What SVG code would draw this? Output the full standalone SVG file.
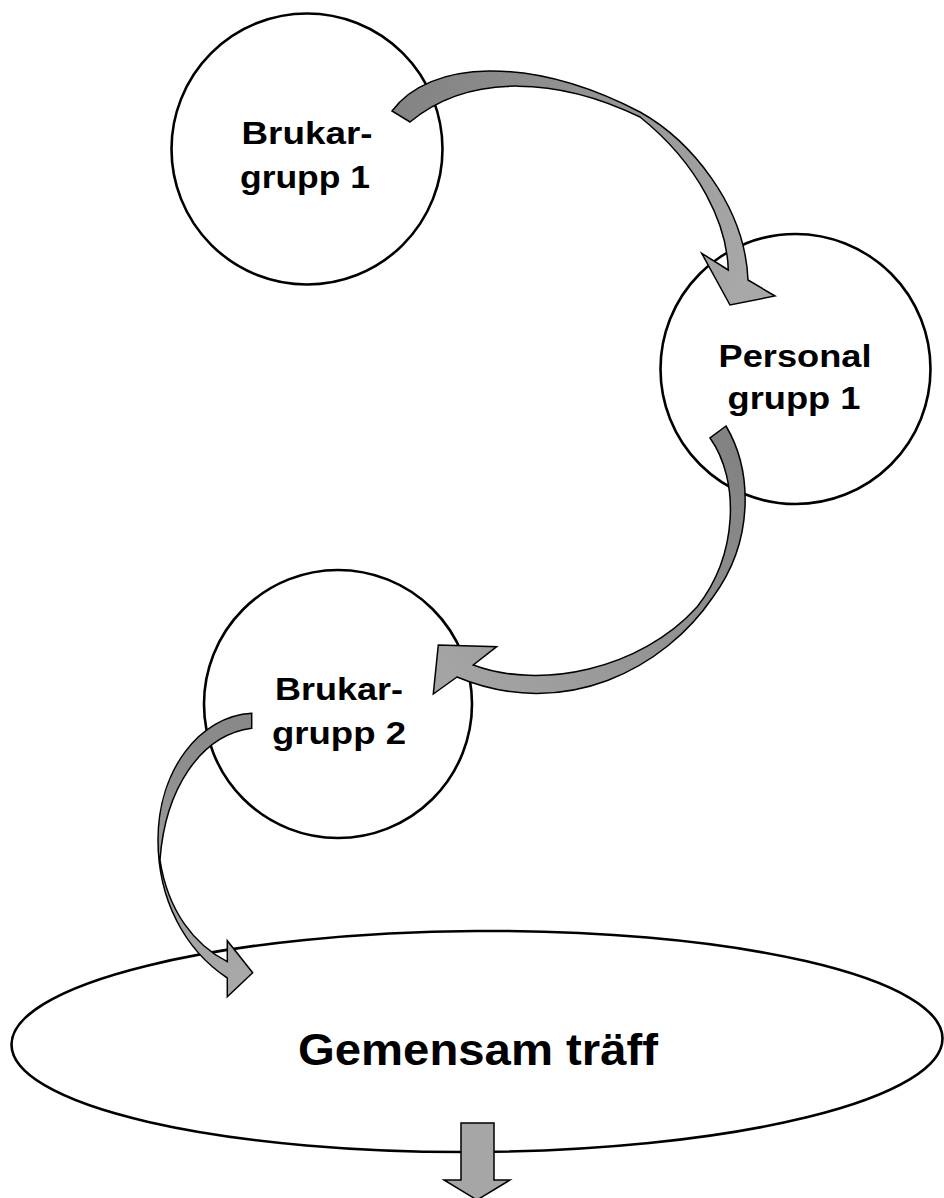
<svg xmlns="http://www.w3.org/2000/svg" width="944" height="1198" viewBox="0 0 944 1198">
<style>
.node{fill:#fff;stroke:#000;stroke-width:2.6}
.lbl{font-family:"Liberation Sans",Arial,sans-serif;font-weight:bold;font-size:32px;fill:#000;text-anchor:middle}
.big{font-size:44px}
.arr{stroke:#000;stroke-width:1.5;stroke-linejoin:miter}
</style>
<defs>
<linearGradient id="g1" gradientUnits="userSpaceOnUse" x1="400" y1="115" x2="740" y2="290">
<stop offset="0" stop-color="#848484"/><stop offset="1" stop-color="#a8a8a8"/>
</linearGradient>
<linearGradient id="g2" gradientUnits="userSpaceOnUse" x1="718" y1="432" x2="450" y2="670">
<stop offset="0" stop-color="#828282"/><stop offset="1" stop-color="#a4a4a4"/>
</linearGradient>
<linearGradient id="g3" gradientUnits="userSpaceOnUse" x1="250" y1="720" x2="240" y2="975">
<stop offset="0" stop-color="#888888"/><stop offset="1" stop-color="#a8a8a8"/>
</linearGradient>
</defs>
<g id="brukargrupp1">
<circle class="node" cx="307" cy="149" r="135.5"/>
<text class="lbl" x="307" y="144" textLength="131" lengthAdjust="spacingAndGlyphs">Brukar-</text>
<text class="lbl" x="305" y="188" textLength="130" lengthAdjust="spacingAndGlyphs">grupp 1</text>
</g>
<g id="personalgrupp1">
<circle class="node" cx="795.5" cy="369" r="135"/>
<text class="lbl" x="795" y="367" textLength="153" lengthAdjust="spacingAndGlyphs">Personal</text>
<text class="lbl" x="794" y="409" textLength="133" lengthAdjust="spacingAndGlyphs">grupp 1</text>
</g>
<g id="brukargrupp2">
<circle class="node" cx="338" cy="704" r="134"/>
<text class="lbl" x="339" y="700" textLength="128" lengthAdjust="spacingAndGlyphs">Brukar-</text>
<text class="lbl" x="339" y="744" textLength="134" lengthAdjust="spacingAndGlyphs">grupp 2</text>
</g>
<g id="gemensamtraff">
<ellipse class="node" cx="477" cy="1041.5" rx="465.5" ry="110.5" transform="rotate(-0.4 477 1041.5)"/>
<text class="lbl big" x="478" y="1065" textLength="360" lengthAdjust="spacingAndGlyphs">Gemensam träff</text>
</g>
<g id="connectors">
<path class="arr" fill="url(#g1)" d="M392,111 C430,60 530,55 640,112 C690,140 745,205 748,280 L775,296 L730,305 L701.7,253.3 L728.3,270 C727,225 700,165 640,117 C560,78 470,72 410,122 Z"/>
<path class="arr" fill="url(#g2)" d="M726,426 C752,470 755,540 713,597 C665,668 565,722 457,677 L433.3,694 L438.3,645 L496.7,646.7 L473.3,665 C540,690 640,670 697,607 C738,555 740,480 710,438 Z"/>
<path class="arr" fill="url(#g3)" d="M251.7,713.3 C200,716 158,770 158,840 C158,900 185,950 227.3,978 L227.3,996.7 L252.7,972.7 L227.3,940.7 L227.3,961.7 C195,945 168,912 160,860 C165,790 200,735 251.7,728.3 Z"/>
<path class="arr" fill="#a6a6a6" d="M461,1123 H494 V1180 H510 L477,1200 L444,1180 H461 Z"/>
</g>
</svg>
